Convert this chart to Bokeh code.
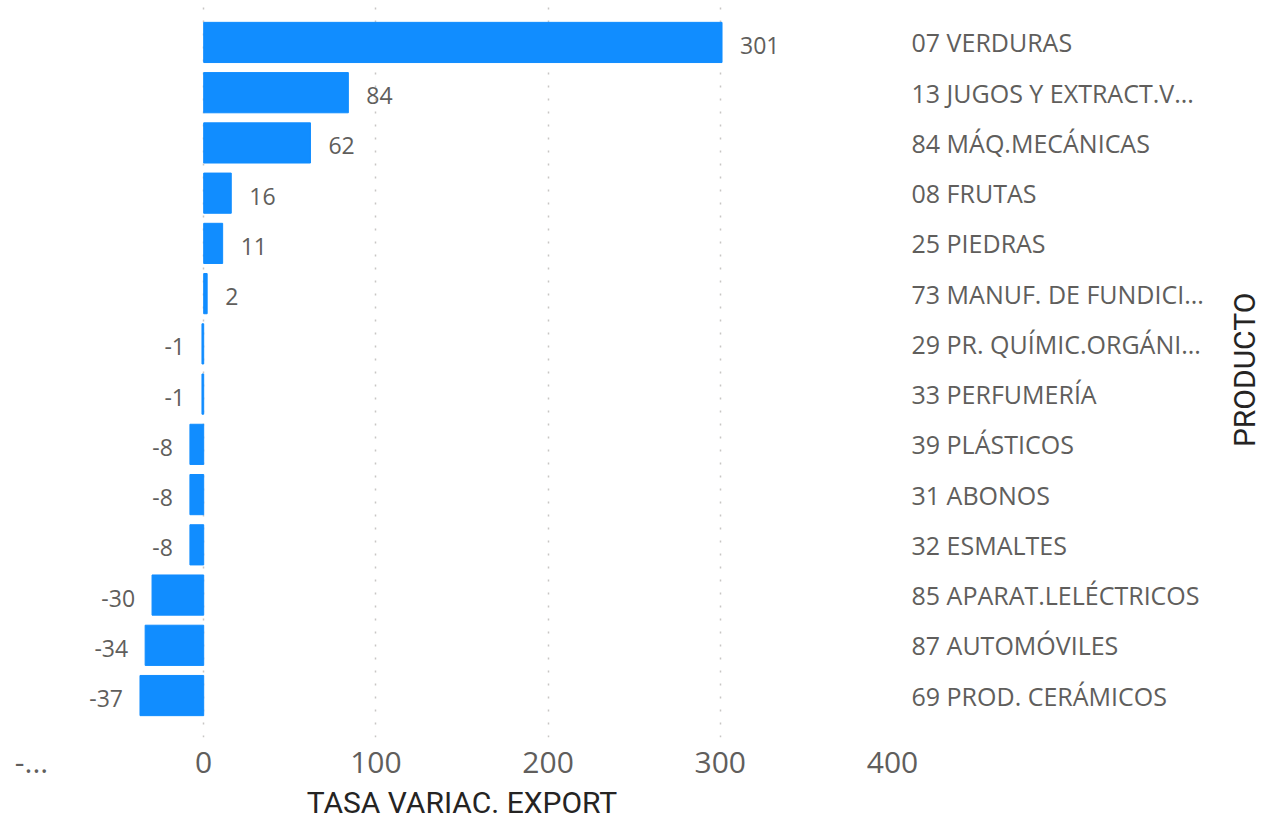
from bokeh.plotting import figure
from bokeh.models import (ColumnDataSource, FactorRange, Range1d, CategoricalAxis,
                          FixedTicker, LabelSet)
from bokeh.embed import file_html
from bokeh.resources import INLINE
from bokeh.core.properties import value
import math

categories = ["07 VERDURAS", "13 JUGOS Y EXTRACT.V...", "84 MÁQ.MECÁNICAS", "08 FRUTAS",
              "25 PIEDRAS", "73 MANUF. DE FUNDICI...", "29 PR. QUÍMIC.ORGÁNI...",
              "33 PERFUMERÍA", "39 PLÁSTICOS", "31 ABONOS", "32 ESMALTES",
              "85 APARAT.LELÉCTRICOS", "87 AUTOMÓVILES", "69 PROD. CERÁMICOS"]
values = [301, 84, 62, 16, 11, 2, -1, -1, -8, -8, -8, -30, -34, -37]
x_ticks = [-100, 0, 100, 200, 300, 400]
x_tick_labels = {-100: "-...", 0: "0", 100: "100", 200: "200", 300: "300", 400: "400"}
x_title = "TASA VARIAC. EXPORT"
y_title = "PRODUCTO"

BAR = "#118DFF"
GRAY = "#605E5C"
DARK = "#252423"

src = ColumnDataSource(dict(cat=categories, val=values))
pos_src = ColumnDataSource(dict(
    cat=[c for c, v in zip(categories, values) if v >= 0],
    val=[v for v in values if v >= 0],
    lab=[str(v) for v in values if v >= 0],
))
neg_src = ColumnDataSource(dict(
    cat=[c for c, v in zip(categories, values) if v < 0],
    val=[v for v in values if v < 0],
    lab=[str(v) for v in values if v < 0],
))

yr = FactorRange(factors=list(reversed(categories)), range_padding=0.335,
                 range_padding_units="absolute")
p = figure(width=1282, height=822, y_range=yr, x_range=Range1d(-100, 400),
           output_backend="svg", toolbar_location=None,
           min_border_left=31, min_border_top=0, min_border_right=390,
           min_border_bottom=84)
p.outline_line_color = None
p.background_fill_color = "white"
p.border_fill_color = "white"
# title "axis": the (rotated, left-anchored) label sits at y_title's position,
# placed so that the text is centred on the plot height
p.extra_y_ranges = {"ttl": FactorRange(factors=[y_title, " "], range_padding=1.36,
                                       range_padding_units="absolute")}

p.hbar(y="cat", left=0, right="val", height=0.8, source=src, color=BAR)

p.add_layout(LabelSet(x="val", y="cat", text="lab", source=pos_src, x_offset=18,
                      y_offset=-3, text_align="left", text_baseline="middle",
                      text_font=value("Open Sans"), text_font_size="23px",
                      text_color=GRAY))
p.add_layout(LabelSet(x="val", y="cat", text="lab", source=neg_src, x_offset=-17,
                      y_offset=-3, text_align="right", text_baseline="middle",
                      text_font=value("Open Sans"), text_font_size="23px",
                      text_color=GRAY))

# x axis
xa = p.xaxis[0]
xa.ticker = FixedTicker(ticks=x_ticks)
xa.major_label_overrides = x_tick_labels
xa.axis_line_color = None
xa.major_tick_line_color = None
xa.minor_tick_line_color = None
xa.major_label_text_font = "Open Sans"
xa.major_label_text_font_size = "30px"
xa.major_label_text_color = GRAY
xa.major_label_standoff = 8
xa.axis_label = x_title
xa.axis_label_text_font = "Roboto"
xa.axis_label_text_font_style = "normal"
xa.axis_label_text_font_size = "30px"
xa.axis_label_text_color = DARK
xa.axis_label_standoff = 9

# hide left axis, use right axis
p.yaxis.visible = False
ra = CategoricalAxis()
ra.axis_line_color = None
ra.major_tick_line_color = None
ra.minor_tick_line_color = None
ra.major_label_text_font = "Open Sans"
ra.major_label_text_font_size = "25px"
ra.major_label_text_color = GRAY
ra.major_label_standoff = 13
p.add_layout(ra, "right")

ta = CategoricalAxis(y_range_name="ttl", major_label_orientation=math.pi / 2)
ta.axis_line_color = None
ta.major_tick_line_color = None
ta.minor_tick_line_color = None
ta.major_label_text_font = "Roboto"
ta.major_label_text_font_size = "30px"
ta.major_label_text_color = DARK
ta.major_label_standoff = 32
p.add_layout(ta, "right")

p.ygrid.grid_line_color = None
p.xgrid.ticker = FixedTicker(ticks=x_ticks)
p.xgrid.grid_line_color = "#C8C6C4"
p.xgrid.grid_line_dash = "2 11"
p.xgrid.grid_line_width = 1.5

open("out.html", "w").write(file_html(p, INLINE))
